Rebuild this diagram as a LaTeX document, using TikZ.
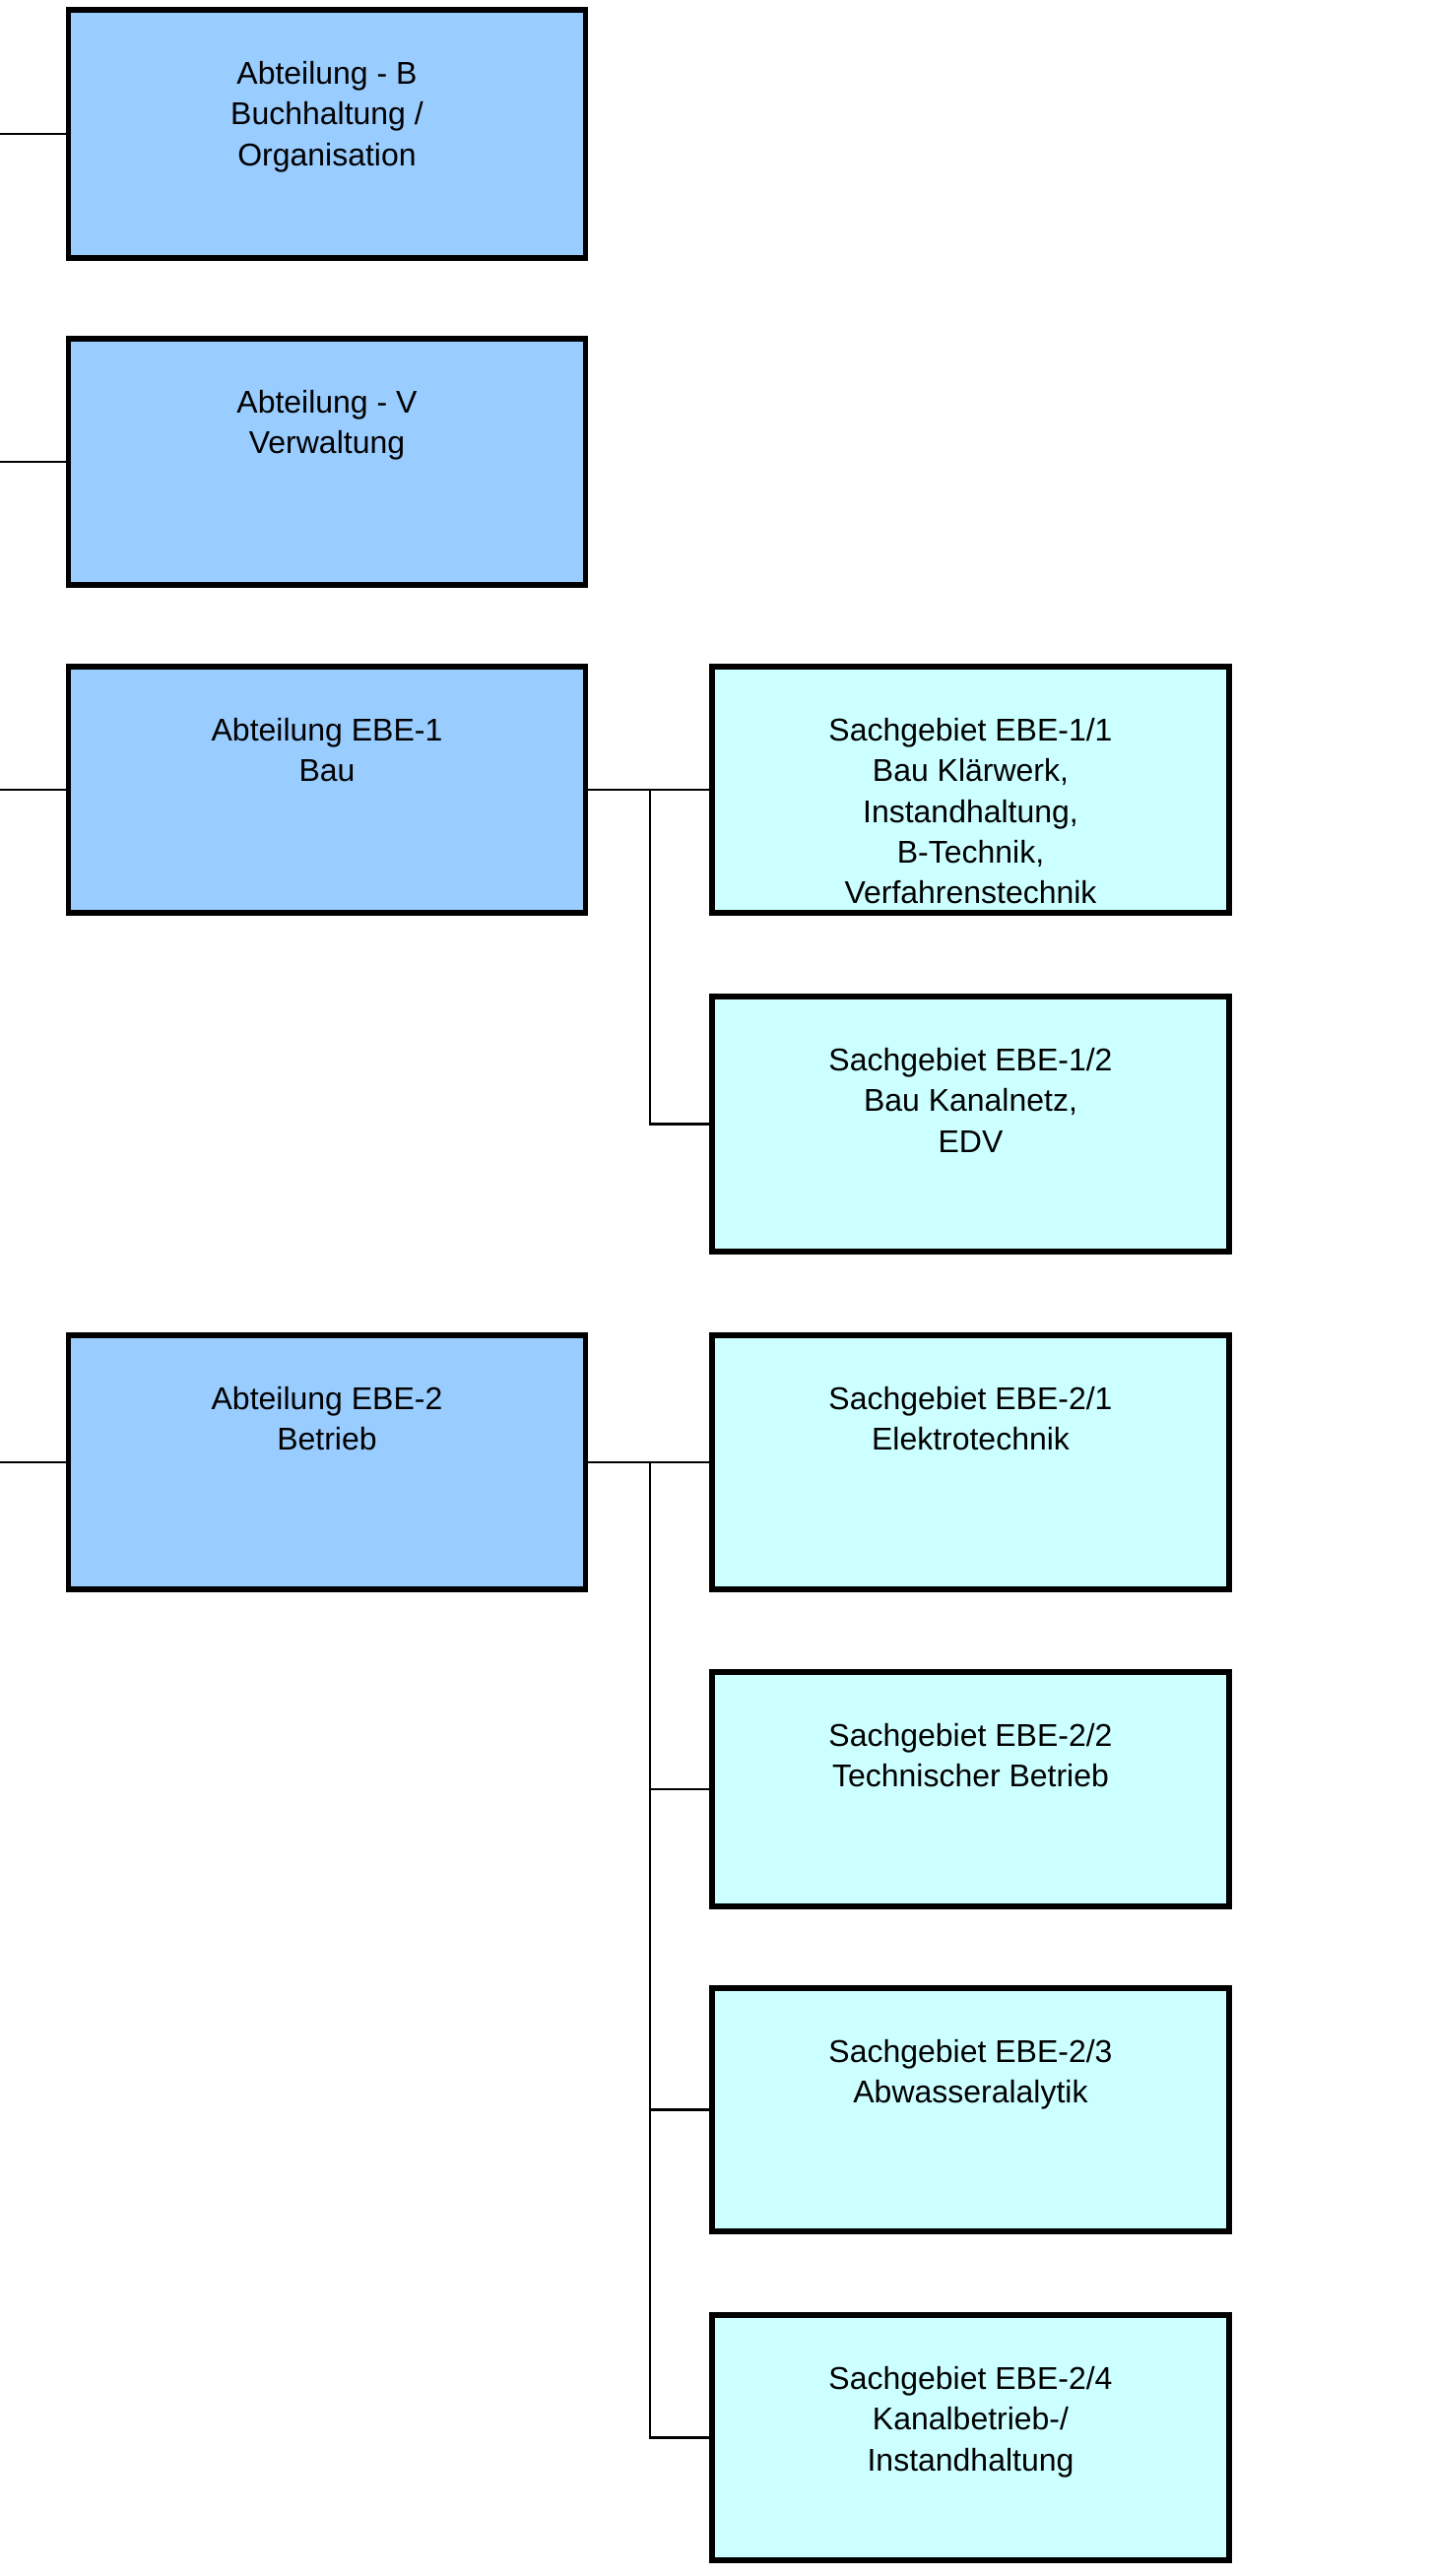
\documentclass[tikz,border=0pt]{standalone}
\usepackage{fontspec}
\setmainfont{Liberation Sans}
\usepackage{tikz}
\usetikzlibrary{positioning}

\definecolor{abtblue}{HTML}{99CCFF}
\definecolor{sgcyan}{HTML}{CCFFFF}

\begin{document}
\begin{tikzpicture}[
  abt/.style={draw, line width=3.3pt, fill=abtblue, minimum width=10.5cm},
  sg/.style={draw, line width=3.3pt, fill=sgcyan, minimum width=10.5cm},
  boxtext/.style={align=center, inner sep=0pt, font=\fontsize{18.2}{23.5}\selectfont},
  link/.style={line width=1.3pt}
]
\useasboundingbox (0,0) rectangle (29.08,-52.32);
% Abteilungen (left column)
\node[abt, minimum height=5.04cm] (b) at (6.64,-2.72) {};
\node[abt, minimum height=5.0cm] (v) at (6.64,-9.38) {};
\node[abt, minimum height=5.0cm] (e1) at (6.64,-16.04) {};
\node[abt, minimum height=5.16cm] (e2) at (6.64,-29.7) {};
% Sachgebiete (right column)
\node[sg, minimum height=5.0cm] (s11) at (19.71,-16.04) {};
\node[sg, minimum height=5.18cm] (s12) at (19.71,-22.83) {};
\node[sg, minimum height=5.16cm] (s21) at (19.71,-29.7) {};
\node[sg, minimum height=4.76cm] (s22) at (19.71,-36.34) {};
\node[sg, minimum height=4.94cm] (s23) at (19.71,-42.85) {};
\node[sg, minimum height=4.98cm] (s24) at (19.71,-49.51) {};
% Texts
\node[boxtext, below=1.1cm of b.north] (bt) {Abteilung - B\\Buchhaltung /\\Organisation};
\node[boxtext, below=1.1cm of v.north] (vt) {Abteilung - V\\Verwaltung};
\node[boxtext, below=1.1cm of e1.north] (e1t) {Abteilung EBE-1\\Bau};
\node[boxtext, below=1.1cm of e2.north] (e2t) {Abteilung EBE-2\\Betrieb};
\node[boxtext, below=1.1cm of s11.north] (s11t) {Sachgebiet EBE-1/1\\Bau Klärwerk,\\Instandhaltung,\\B-Technik,\\Verfahrenstechnik};
\node[boxtext, below=1.1cm of s12.north] (s12t) {Sachgebiet EBE-1/2\\Bau Kanalnetz,\\EDV};
\node[boxtext, below=1.1cm of s21.north] (s21t) {Sachgebiet EBE-2/1\\Elektrotechnik};
\node[boxtext, below=1.1cm of s22.north] (s22t) {Sachgebiet EBE-2/2\\Technischer Betrieb};
\node[boxtext, below=1.1cm of s23.north] (s23t) {Sachgebiet EBE-2/3\\Abwasseralalytik};
\node[boxtext, below=1.1cm of s24.north] (s24t) {Sachgebiet EBE-2/4\\Kanalbetrieb-/\\Instandhaltung};
% Incoming lines from the left
\coordinate (inb) at (0,-2.72);
\coordinate (inv) at (0,-9.38);
\coordinate (ine1) at (0,-16.04);
\coordinate (ine2) at (0,-29.7);
\draw[link] (inb) -- (b.west);
\draw[link] (inv) -- (v.west);
\draw[link] (ine1) -- (e1.west);
\draw[link] (ine2) -- (e2.west);
% Bus EBE-1
\coordinate (bus1) at (13.2,-16.04);
\draw[link] (e1.east) -- (s11.west);
\draw[link] (bus1) |- (s12.west);
% Bus EBE-2
\coordinate (bus2) at (13.2,-29.7);
\draw[link] (e2.east) -- (s21.west);
\draw[link] (bus2) |- (s24.west);
\draw[link] (bus2) |- (s22.west);
\draw[link] (bus2) |- (s23.west);
\end{tikzpicture}
\end{document}
